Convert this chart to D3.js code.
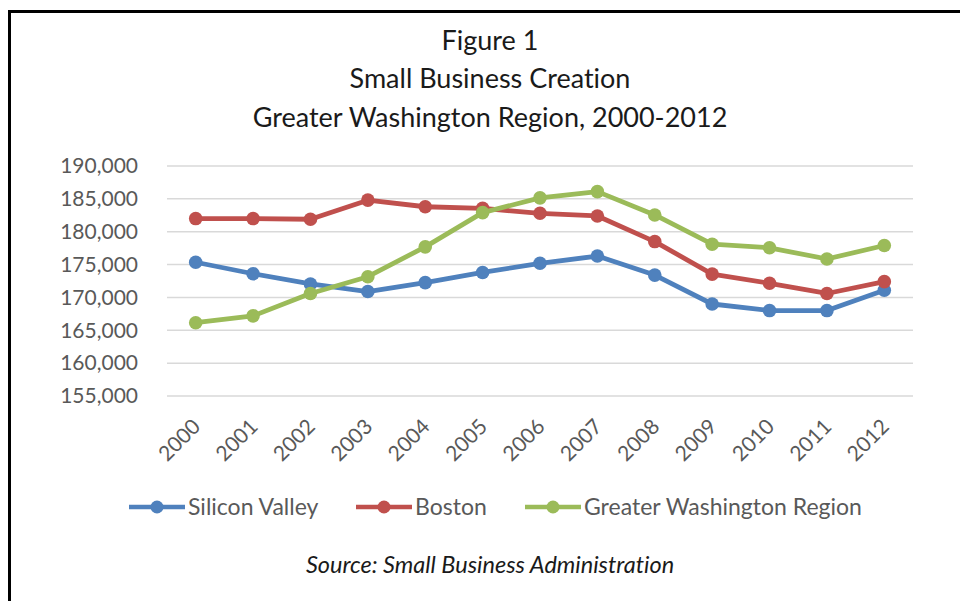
<!DOCTYPE html>
<html>
<head>
<meta charset="utf-8">
<script src="https://cdn.jsdelivr.net/npm/d3@7"></script>
<style>
  html, body { margin: 0; padding: 0; background: #fff; }
  svg { display: block; }
  text { font-family: Lato, "Open Sans", sans-serif; font-variant-ligatures: none; font-feature-settings: "liga" 0, "clig" 0; }
</style>
</head>
<body>
<svg id="chart" width="960" height="601"></svg>
<script>
// Years on the category axis
const years = ["2000","2001","2002","2003","2004","2005","2006","2007","2008","2009","2010","2011","2012"];

// Small business counts per region
const siliconValley = [175350, 173600, 172050, 170900, 172250, 173800, 175200, 176300, 173400, 169000, 168000, 168000, 171100];
const boston        = [182000, 182000, 181900, 184800, 183800, 183550, 182800, 182400, 178500, 173550, 172150, 170600, 172400];
const greaterWash   = [166150, 167200, 170600, 173150, 177700, 182900, 185150, 186100, 182550, 178100, 177550, 175850, 177900];

const seriesNames  = ["Silicon Valley", "Boston", "Greater Washington Region"];
const seriesColors = ["#4F81BD", "#C0504D", "#9BBB59"];
const yTicks = [155000, 160000, 165000, 170000, 175000, 180000, 185000, 190000];

const titleLines = ["Figure 1", "Small Business Creation", "Greater Washington Region, 2000-2012"];
const sourceText = "Source: Small Business Administration";

const series = [siliconValley, boston, greaterWash].map((vals, i) => ({
  name: seriesNames[i], color: seriesColors[i],
  points: vals.map((v, j) => ({ year: years[j], value: v }))
}));

const svg = d3.select("#chart");

// frame around the figure
svg.append("path")
  .attr("d", "M9.5,601 V11.5 H962")
  .attr("fill", "none").attr("stroke", "#000").attr("stroke-width", 3);

// titles
const titleY = [50, 88, 127];
svg.selectAll("text.title").data(titleLines).join("text")
  .attr("class", "title")
  .attr("x", 490).attr("y", (d, i) => titleY[i])
  .attr("text-anchor", "middle")
  .attr("font-size", 27).attr("fill", "#1a1a1a")
  .text(d => d);

const x = d3.scaleBand().domain(years).range([167, 913]);
const y = d3.scaleLinear().domain([155000, 190000]).range([396, 166]);
const cx = d => x(d) + x.bandwidth() / 2;

// gridlines
svg.append("g").selectAll("line").data(yTicks).join("line")
  .attr("x1", 167).attr("x2", 913)
  .attr("y1", d => y(d)).attr("y2", d => y(d))
  .attr("stroke", "#d9d9d9").attr("stroke-width", 1.5);

// y axis labels
const yAxis = svg.append("g").attr("transform", "translate(148,0)")
  .call(d3.axisLeft(y).tickValues(yTicks).tickSize(0).tickPadding(10).tickFormat(d3.format(",")));
yAxis.select(".domain").remove();
yAxis.selectAll("text").attr("font-size", 21).attr("fill", "#595959").attr("font-family", "Lato");

// x axis labels, rotated
const xAxis = svg.append("g").attr("transform", "translate(0,400)")
  .call(d3.axisBottom(x).tickSize(0));
xAxis.select(".domain").remove();
xAxis.selectAll(".tick").attr("transform", d => `translate(${cx(d) + 6},28)`);
xAxis.selectAll("text")
  .attr("y", 0).attr("dy", 0)
  .attr("transform", "rotate(-45)")
  .attr("text-anchor", "end")
  .attr("font-size", 21).attr("fill", "#595959").attr("font-family", "Lato");

// lines and markers
const line = d3.line().x(d => cx(d.year)).y(d => y(d.value));
const gSeries = svg.append("g").selectAll("g").data(series).join("g");
gSeries.append("path")
  .attr("d", d => line(d.points))
  .attr("fill", "none").attr("stroke", d => d.color)
  .attr("stroke-width", 4.8).attr("stroke-linejoin", "round").attr("stroke-linecap", "round");
gSeries.selectAll("circle").data(d => d.points.map(p => ({ ...p, color: d.color }))).join("circle")
  .attr("cx", d => cx(d.year)).attr("cy", d => y(d.value))
  .attr("r", 6.8).attr("fill", d => d.color);

// legend
const legendX = [129, 356, 525];
const legend = svg.append("g").selectAll("g").data(series).join("g")
  .attr("transform", (d, i) => `translate(${legendX[i]},507)`);
legend.append("line").attr("x1", 0).attr("x2", 56).attr("y1", 0).attr("y2", 0)
  .attr("stroke", d => d.color).attr("stroke-width", 4.5);
legend.append("circle").attr("cx", 28).attr("cy", 0).attr("r", 6.5).attr("fill", d => d.color);
legend.append("text").attr("x", 59).attr("y", 0).attr("dy", "0.35em")
  .attr("font-size", 23).attr("fill", "#595959")
  .text(d => d.name);

// source note
svg.append("text")
  .attr("x", 490).attr("y", 573).attr("text-anchor", "middle")
  .attr("font-size", 23.5).attr("font-style", "italic").attr("fill", "#1a1a1a")
  .text(sourceText);
</script>
</body>
</html>
